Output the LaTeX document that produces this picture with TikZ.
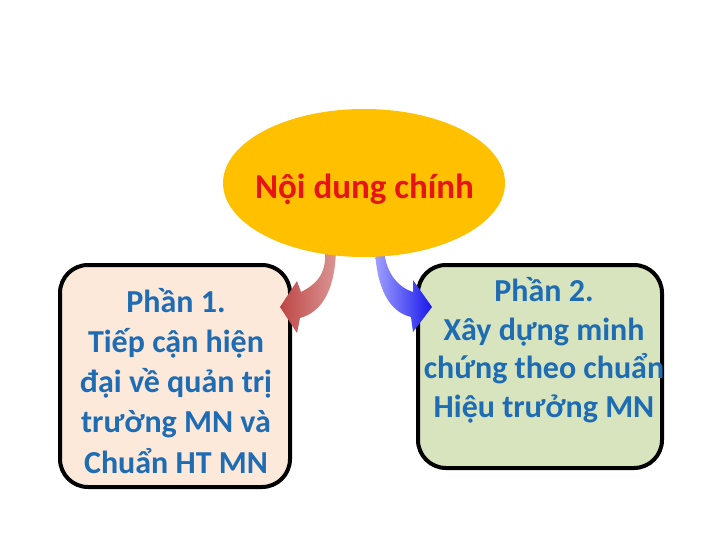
\documentclass[tikz,border=0pt]{standalone}
\usepackage{fontspec}
\setmainfont{Carlito}
\usetikzlibrary{shapes.geometric}
\definecolor{ellfill}{RGB}{255,192,0}
\definecolor{titlered}{RGB}{230,20,20}
\definecolor{txtblue}{RGB}{30,108,180}
\definecolor{peach}{RGB}{253,233,217}
\definecolor{olivebg}{RGB}{215,228,189}
\definecolor{redlight}{RGB}{218,150,148}
\definecolor{reddark}{RGB}{190,70,70}
\definecolor{bluelight}{RGB}{160,160,255}
\definecolor{bluedark}{RGB}{25,25,235}
\tikzset{
  partbox/.style={draw=black, line width=4pt, rounded corners=28pt},
  parttext/.style={text=txtblue, align=center, inner sep=0pt, anchor=base},
}
\begin{document}
\begin{tikzpicture}[x=1pt,y=-1pt]
\useasboundingbox (0,0) rectangle (720,540);
% boxes
\draw[partbox, fill=peach] (60,265) rectangle (290,487);
\draw[partbox, fill=olivebg] (418,265) rectangle (662,468);
% arrows
\shade[left color=reddark, right color=redlight]
  (325,250) -- (336,250)
  .. controls (335,290) and (322,312) .. (300,318)
  -- (297,333) -- (280,307) -- (297,281) -- (301,292)
  .. controls (315,285) and (327,275) .. (325,250) -- cycle;
\shade[left color=bluelight, right color=bluedark]
  (375,250) -- (384,250)
  .. controls (386,275) and (400,288) .. (413,292)
  -- (413,280) -- (432,307) -- (413,332) -- (411,317)
  .. controls (390,312) and (377,290) .. (375,250) -- cycle;
% ellipse
\node[ellipse, fill=ellfill, minimum width=282pt, minimum height=148pt, inner sep=0pt] (main) at (364,183) {};
\node[text=titlered, font=\bfseries\fontsize{35}{40}\selectfont, anchor=base, inner sep=0pt] (title) at (364.5,199) {Nội dung chính};
% texts
\node[parttext, font=\bfseries\fontsize{32}{40.25}\selectfont] (t1) at (176,473) {Phần 1.\\Tiếp cận hiện\\đại về quản trị\\trường MN và\\Chuẩn HT MN};
\node[parttext, font=\bfseries\fontsize{32}{38.4}\selectfont] (t2) at (544,417) {Phần 2.\\Xây dựng minh\\chứng theo chuẩn\\Hiệu trưởng MN};
\end{tikzpicture}
\end{document}
